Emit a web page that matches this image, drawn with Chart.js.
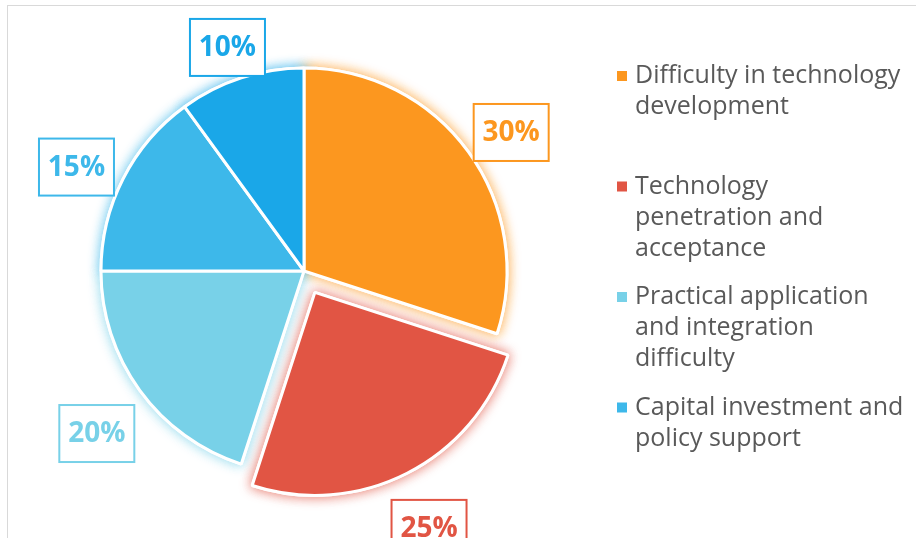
<!DOCTYPE html>
<html>
<head>
<meta charset="utf-8">
<script src="https://cdn.jsdelivr.net/npm/chart.js@4.4.1/dist/chart.umd.min.js"></script>
<style>
  html, body { margin: 0; padding: 0; background: #fff; }
  #wrap { position: relative; width: 916px; height: 538px; }
  #frame { position: absolute; left: 7px; top: 5px; right: -2px; bottom: -2px;
           border-left: 1px solid #d9d9d9; border-top: 1px solid #d9d9d9; }
  canvas { position: absolute; left: 0; top: 0; }
</style>
</head>
<body>
<div id="wrap">
  <div id="frame"></div>
  <canvas id="pieChart" width="916" height="538"></canvas>
</div>
<script>
// Data
const categories = [
  ["Difficulty in technology", "development"],
  ["Technology", "penetration and", "acceptance"],
  ["Practical application", "and integration", "difficulty"],
  ["Capital investment and", "policy support"],
  ["Other"],
];
const shares = [30, 25, 20, 15, 10];
const sliceColors = ["#FC971F", "#E15544", "#78D1E8", "#3DB8EA", "#1AA7E8"];
const legendCount = 4; // last slice has no legend entry

// the red slice is pulled out of the pie (pixels)
const explode = [0, 24, 0, 0, 0];

const FONT = "'Open Sans', 'Noto Sans', sans-serif";

// Coloured glow behind each slice
const glowPlugin = {
  id: "glow",
  beforeDatasetsDraw(chart) {
    const ctx = chart.ctx;
    const meta = chart.getDatasetMeta(0);
    meta.data.forEach((arc, i) => {
      ctx.save();
      ctx.shadowColor = sliceColors[i] + "cc";
      ctx.shadowBlur = 12;
      arc.draw(ctx);
      ctx.restore();
    });
  },
};

// Boxed percentage labels outside each slice
const boxLabels = {
  id: "boxLabels",
  afterDatasetsDraw(chart) {
    const ctx = chart.ctx;
    const meta = chart.getDatasetMeta(0);
    const w = 75, h = 57, gap = 6, dy = 12;
    meta.data.forEach((arc, i) => {
      const mid = (arc.startAngle + arc.endAngle) / 2;
      const ux = Math.cos(mid), uy = Math.sin(mid);
      const off = explode[i];
      const px = arc.x + ux * (arc.outerRadius + off);
      const py = arc.y + uy * (arc.outerRadius + off);
      const hp = (w / 2) * Math.abs(ux) + (h / 2) * Math.abs(uy);
      const cx = px + ux * (hp + gap);
      const cy = py + uy * (hp + gap) + dy;
      ctx.save();
      ctx.fillStyle = "#fff";
      ctx.fillRect(cx - w / 2, cy - h / 2, w, h);
      ctx.strokeStyle = sliceColors[i];
      ctx.lineWidth = 2;
      ctx.strokeRect(cx - w / 2, cy - h / 2, w, h);
      ctx.fillStyle = sliceColors[i];
      ctx.font = "bold 28px " + FONT;
      ctx.textAlign = "center";
      ctx.textBaseline = "middle";
      ctx.fillText(shares[i] + "%", cx, cy + 1);
      ctx.restore();
    });
  },
};

// Right-hand legend with wrapped labels
const sideLegend = {
  id: "sideLegend",
  afterDraw(chart) {
    const ctx = chart.ctx;
    const x = 617, lineH = 31, slot = 110.5, top = 76;
    ctx.save();
    ctx.font = "25px " + FONT;
    ctx.textBaseline = "middle";
    ctx.textAlign = "left";
    for (let i = 0; i < legendCount; i++) {
      const y = top + i * slot;
      ctx.fillStyle = sliceColors[i];
      ctx.fillRect(x, y - 5, 10, 10);
      ctx.fillStyle = "#595959";
      categories[i].forEach((line, k) => {
        ctx.fillText(line, x + 18, y + k * lineH);
      });
    }
    ctx.restore();
  },
};

new Chart(document.getElementById("pieChart"), {
  type: "pie",
  data: {
    labels: categories,
    datasets: [
      {
        data: shares,
        backgroundColor: sliceColors,
        borderColor: "#ffffff",
        borderWidth: 3,
        offset: explode.map((v) => v * 4), // ArcElement draws offset / 4
        hoverOffset: 0,
      },
    ],
  },
  options: {
    responsive: false,
    animation: false,
    radius: 203,
    layout: { padding: { left: 60, right: 368, top: 4, bottom: 0 } },
    plugins: {
      legend: { display: false },
      tooltip: { enabled: false },
    },
  },
  plugins: [glowPlugin, boxLabels, sideLegend],
});
</script>
</body>
</html>
